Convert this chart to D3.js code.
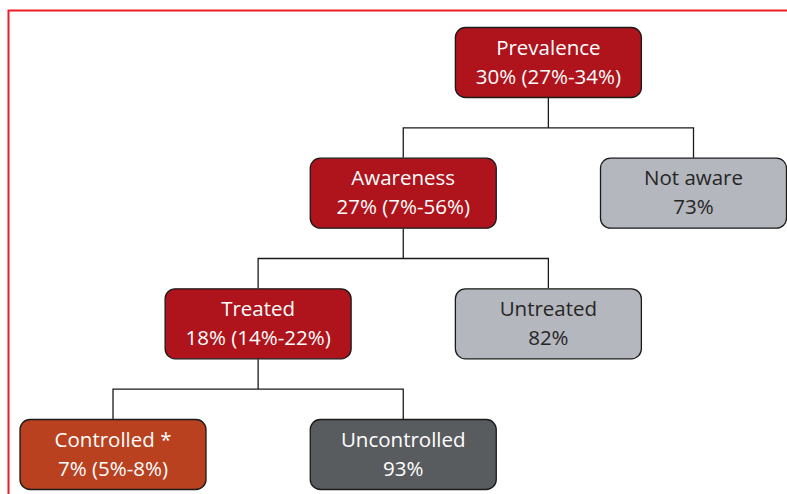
<!DOCTYPE html>
<html>
<head>
<meta charset="utf-8">
<script src="https://cdn.jsdelivr.net/npm/d3@7"></script>
<style>
  body { margin: 0; background: #fff; }
  svg { display: block; }
</style>
</head>
<body>
<svg id="canvas" width="787" height="494"></svg>
<script>
// cascade of care, one entry per box
const stages = ["Prevalence", "Awareness", "Not aware", "Treated", "Untreated", "Controlled *", "Uncontrolled"];
const values = ["30% (27%-34%)", "27% (7%-56%)", "73%", "18% (14%-22%)", "82%", "7% (5%-8%)", "93%"];
const parents = [null, "Prevalence", "Prevalence", "Awareness", "Awareness", "Treated", "Treated"];
const kinds = ["main", "main", "other", "main", "other", "controlled", "uncontrolled"];

const fillFor = {
  main: "#af131b",
  other: "#b4b7bd",
  controlled: "#b9411f",
  uncontrolled: "#595c5f"
};
const textFor = {
  main: "#ffffff",
  other: "#262626",
  controlled: "#ffffff",
  uncontrolled: "#ffffff"
};

const canvas = d3.select("#canvas");

const nodes = stages.map((s, i) => ({ name: s, value: values[i], parent: parents[i], kind: kinds[i] }));
const root = d3.stratify().id(d => d.name).parentId(d => d.parent)(nodes);

// first child goes one column left, second one column right
root.col = 3;
root.each(n => {
  if (n.children) {
    n.children[0].col = n.col - 1;
    n.children[1].col = n.col + 1;
  }
});

const x = d3.scaleLinear().domain([0, 4]).range([113, 693.5]);
const y = d3.scaleLinear().domain([0, 3]).range([27, 419]);
const boxW = 187;
const boxH = 71;

// red frame
canvas.append("path")
  .attr("d", "M8.5,494V10.5H787")
  .attr("fill", "none")
  .attr("stroke", "#ed1c24")
  .attr("stroke-width", 2);

// connectors
root.each(n => {
  if (!n.children) return;
  const px = x(n.col);
  const py = y(n.depth) + boxH;
  const midY = (py + y(n.depth + 1)) / 2;
  const left = x(n.children[0].col);
  const right = x(n.children[1].col);
  const cy = y(n.depth + 1);
  canvas.append("path")
    .attr("d", `M${px},${py}V${midY}M${left},${cy}V${midY}H${right}V${cy}`)
    .attr("fill", "none")
    .attr("stroke", "#1a1a1a")
    .attr("stroke-width", 1.3);
});

const boxes = canvas.selectAll("g.box")
  .data(root.descendants())
  .enter()
  .append("g")
  .attr("class", "box")
  .attr("transform", d => `translate(${x(d.col) - boxW / 2},${y(d.depth)})`);

boxes.append("rect")
  .attr("x", 0.5)
  .attr("y", 0.5)
  .attr("width", boxW - 1)
  .attr("height", boxH - 1)
  .attr("rx", 10)
  .attr("fill", d => fillFor[d.data.kind])
  .attr("stroke", "#1a1a1a")
  .attr("stroke-width", 1.3);

boxes.append("text")
  .attr("x", boxW / 2)
  .attr("y", 27.5)
  .attr("text-anchor", "middle")
  .attr("font-family", "Open Sans, sans-serif")
  .attr("font-size", 20.5)
  .attr("fill", d => textFor[d.data.kind])
  .text(d => d.data.name);

boxes.append("text")
  .attr("x", boxW / 2)
  .attr("y", 56.5)
  .attr("text-anchor", "middle")
  .attr("font-family", "Open Sans, sans-serif")
  .attr("font-size", 20.5)
  .attr("fill", d => textFor[d.data.kind])
  .text(d => d.data.value);
</script>
</body>
</html>
